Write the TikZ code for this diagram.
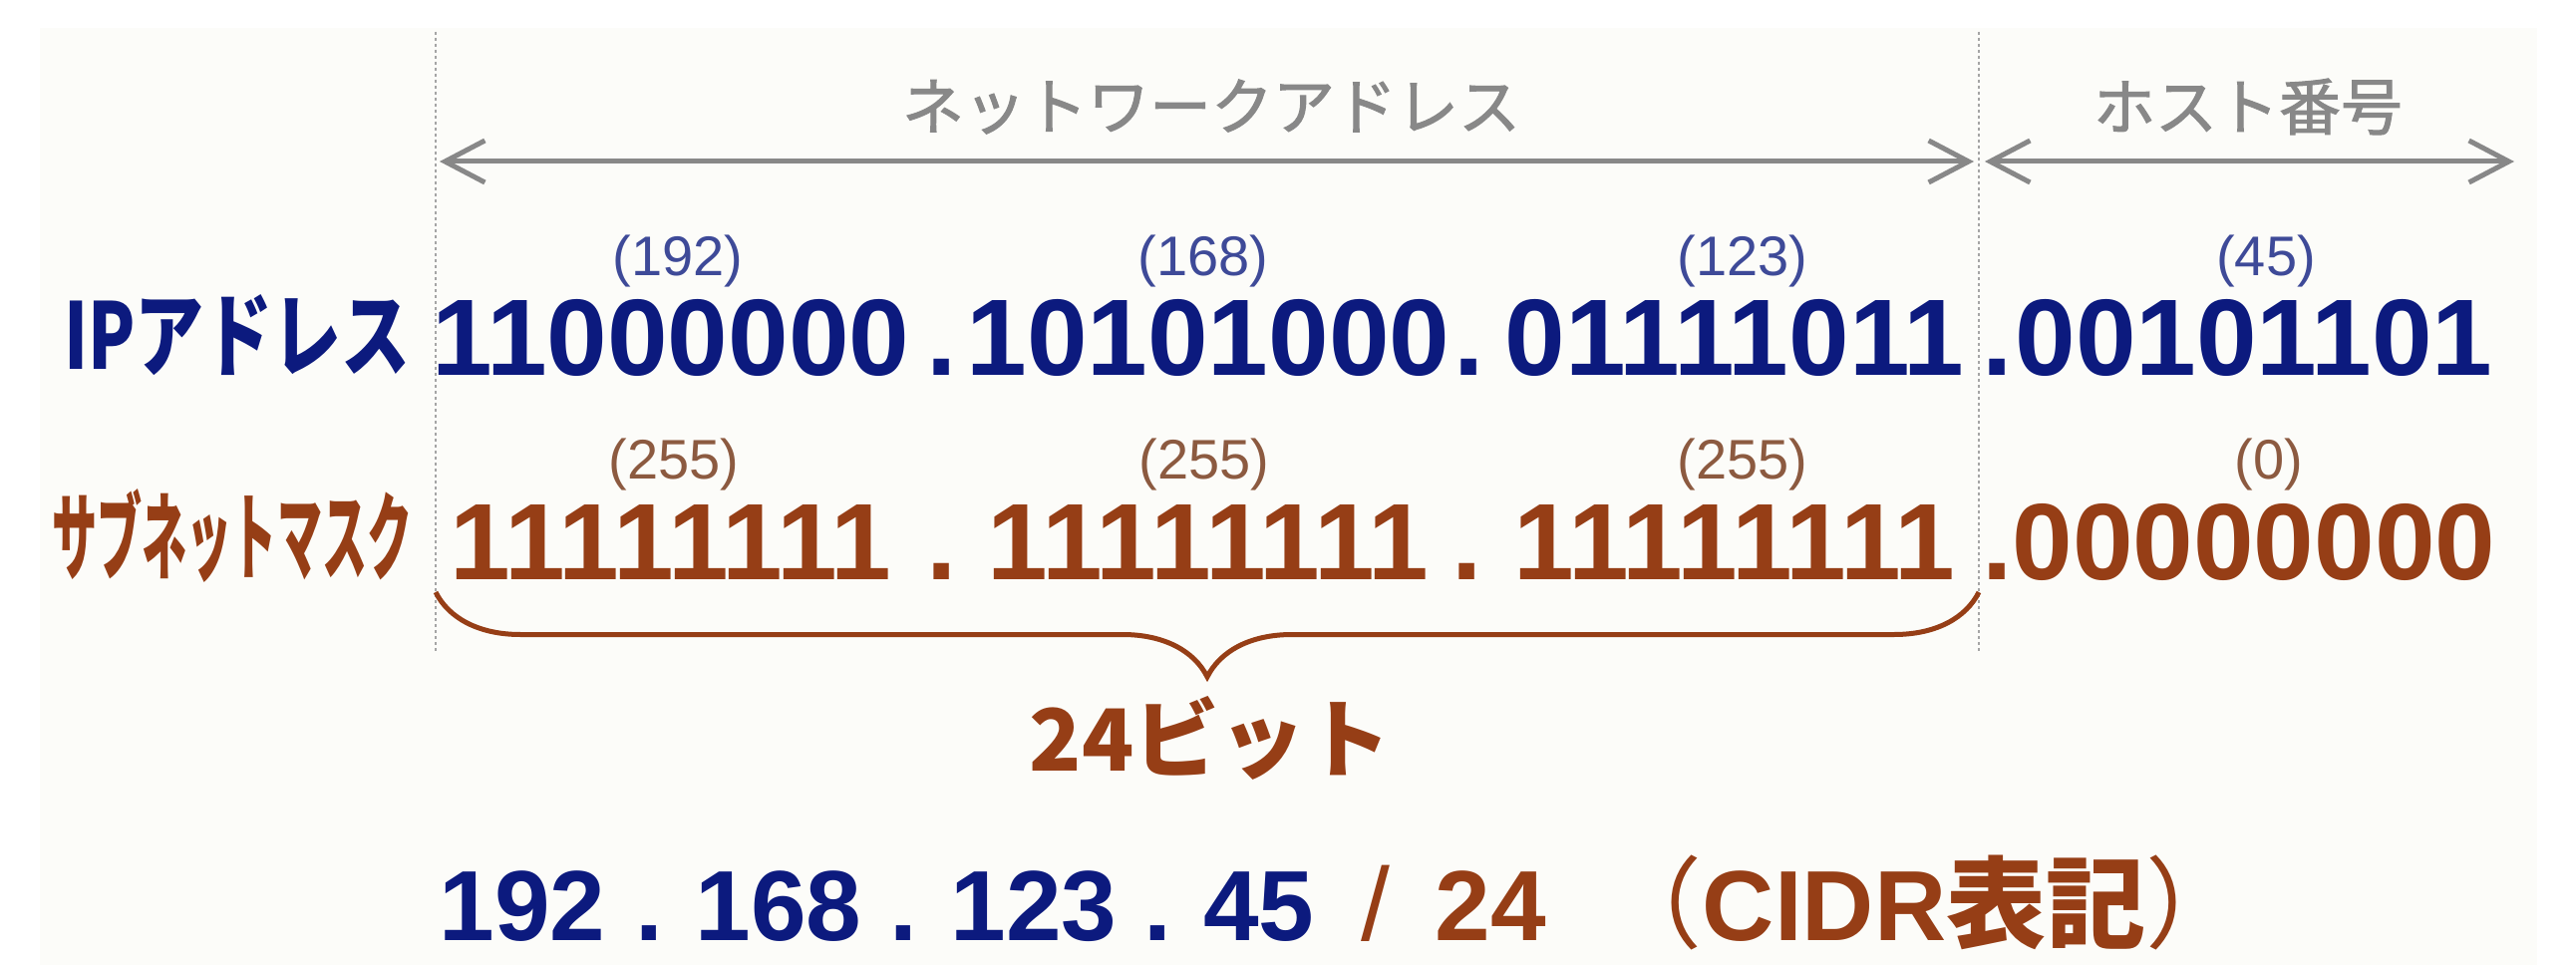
\documentclass[tikz,border=0pt]{standalone}
\usepackage{fontspec}
\usepackage{graphicx}
\setmainfont{Liberation Sans}
\newfontfamily\jp{Noto Sans CJK JP}
\newfontfamily\jpgray[FakeBold=1.6]{Noto Sans CJK JP}
\usetikzlibrary{arrows.meta,decorations.pathreplacing}

\definecolor{ipblue}{RGB}{12,26,126}
\definecolor{ipvalblue}{RGB}{62,74,152}
\definecolor{maskbrown}{RGB}{150,62,22}
\definecolor{maskvalbrown}{RGB}{140,90,64}
\definecolor{spangray}{RGB}{136,136,136}
\definecolor{divgray}{RGB}{165,165,165}
\definecolor{panelbg}{RGB}{252,252,249}

\tikzset{
  bits/.style={font=\fontsize{109}{120}\selectfont\bfseries, inner sep=0pt, anchor=base},
  ipbits/.style={bits, text=ipblue},
  maskbits/.style={bits, text=maskbrown},
  val/.style={font=\fontsize{56}{60}\selectfont, inner sep=0pt},
  ipval/.style={val, text=ipvalblue},
  maskval/.style={val, text=maskvalbrown},
  partname/.style={font=\jpgray\fontsize{62}{70}\selectfont, text=spangray, inner sep=0pt},
  spanarrow/.style={draw=spangray, line width=5pt,
    {Straight Barb[length=40pt,width=42pt]}-{Straight Barb[length=40pt,width=42pt]}},
  divider/.style={draw=divgray, line width=2pt, dash pattern=on 3pt off 3pt},
  cidr/.style={font=\fontsize{100}{110}\selectfont\bfseries, inner sep=0pt, anchor=base},
}

\begin{document}
\begin{tikzpicture}[x=1pt,y=-1pt]
\useasboundingbox (0,0) rectangle (2584,968);
\fill[panelbg] (40,28) rectangle (2545,968);

% dividers
\coordinate (ntop) at (437,32);
\coordinate (nbot) at (437,655);
\coordinate (htop) at (1985,32);
\coordinate (hbot) at (1985,655);
\draw[divider] (ntop) -- (nbot);
\draw[divider] (htop) -- (hbot);

% spans
\coordinate (netl) at (441,162);
\coordinate (netr) at (1980,162);
\coordinate (hostl) at (1991,162);
\coordinate (hostr) at (2522,162);
\draw[spanarrow] (netl) -- (netr);
\draw[spanarrow] (hostl) -- (hostr);
\node[partname] (netname) at (1215,107) {ネットワークアドレス};
\node[partname] (hostname) at (2255,107) {ホスト番号};

% ip address
\node[font=\jp\bfseries\fontsize{92}{100}\selectfont, text=ipblue, inner sep=0pt] (iplabel) at (238,336) {\scalebox{0.75}[1]{IPアドレス}};
\node[ipbits] (ip1) at (673,376) {11000000};
\node[ipbits] (ipdot1) at (945,376) {.};
\node[ipbits] (ip2) at (1212,376) {10101000};
\node[ipbits] (ipdot2) at (1474,376) {.};
\node[ipbits] (ip3) at (1740,376) {01111011};
\node[ipbits] (ipdot3) at (2004,376) {.};
\node[ipbits] (ip4) at (2261,376) {00101101};
\node[ipval] (ipv1) at (680,262) {(192)};
\node[ipval] (ipv2) at (1207,262) {(168)};
\node[ipval] (ipv3) at (1748,262) {(123)};
\node[ipval] (ipv4) at (2273,262) {(45)};

% subnet mask
\node[font=\jp\bfseries\fontsize{96}{100}\selectfont, text=maskbrown, inner sep=0pt] (masklabel) at (233,537) {\scalebox{0.47}[1]{サブネットマスク}};
\node[maskbits] (mask1) at (673,581) {11111111};
\node[maskbits] (maskdot1) at (945,581) {.};
\node[maskbits] (mask2) at (1212,581) {11111111};
\node[maskbits] (maskdot2) at (1472,581) {.};
\node[maskbits] (mask3) at (1740,581) {11111111};
\node[maskbits] (maskdot3) at (2004,581) {.};
\node[maskbits] (mask4) at (2261,581) {00000000};
\node[maskval] (maskv1) at (676,466) {(255)};
\node[maskval] (maskv2) at (1208,466) {(255)};
\node[maskval] (maskv3) at (1748,466) {(255)};
\node[maskval] (maskv4) at (2276,466) {(0)};

% prefix brace
\coordinate (bl) at (437,594);
\coordinate (br) at (1985,594);
\draw[maskbrown, line width=5pt, decorate, decoration={brace, mirror, amplitude=85pt}] (bl) -- (br);
\node[font=\jp\bfseries\fontsize{86}{90}\selectfont, text=maskbrown, inner sep=0pt] (prefixlen) at (1214,740) {24ビット};

% cidr notation
\node[cidr, text=ipblue] (c1) at (524,943) {192};
\node[cidr, text=ipblue] (cd1) at (651,943) {.};
\node[cidr, text=ipblue] (c2) at (781,943) {168};
\node[cidr, text=ipblue] (cd2) at (906,943) {.};
\node[cidr, text=ipblue] (c3) at (1037,943) {123};
\node[cidr, text=ipblue] (cd3) at (1161,943) {.};
\node[cidr, text=ipblue] (c4) at (1263,943) {45};
\node[cidr, text=maskbrown, font=\fontsize{104}{110}\selectfont] (cslash) at (1380,943) {/};
\node[cidr, text=maskbrown] (cpre) at (1495,943) {24};
\node[cidr, text=maskbrown] (cnote) at (1930,943) {{\mdseries\jp（}CIDR{\jp 表記}{\mdseries\jp ）}};
\end{tikzpicture}
\end{document}
